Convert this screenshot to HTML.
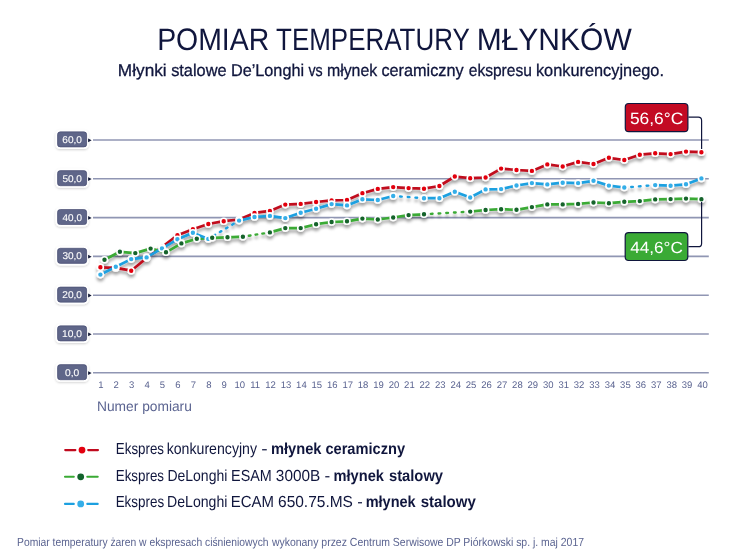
<!DOCTYPE html>
<html><head><meta charset="utf-8"><title>Pomiar temperatury młynków</title>
<style>
html,body{margin:0;padding:0;background:#fff;}
body{width:750px;height:556px;overflow:hidden;}
svg{display:block;}
text{text-rendering:geometricPrecision;}
text{font-family:'Liberation Sans', Arial, sans-serif;}
</style></head><body>
<svg width="750" height="556" viewBox="0 0 750 556" style="will-change:transform">
<defs>
<filter id="sh" x="-5%" y="-20%" width="110%" height="160%">
<feGaussianBlur in="SourceAlpha" stdDeviation="1.7"/>
<feOffset dx="0" dy="3" result="b"/>
<feFlood flood-color="#000" flood-opacity="0.36"/>
<feComposite in2="b" operator="in"/>
<feMerge><feMergeNode/><feMergeNode in="SourceGraphic"/></feMerge>
</filter>
<filter id="lsh" x="-30%" y="-40%" width="160%" height="190%">
<feGaussianBlur in="SourceAlpha" stdDeviation="1.2"/>
<feOffset dx="0" dy="1.2" result="b"/>
<feFlood flood-color="#000" flood-opacity="0.18"/>
<feComposite in2="b" operator="in"/>
<feMerge><feMergeNode/><feMergeNode in="SourceGraphic"/></feMerge>
</filter>
</defs>
<rect width="750" height="556" fill="#fff"/>

<text x="157.14" y="49.8" font-size="31" fill="#10163d" textLength="112.11" lengthAdjust="spacingAndGlyphs">POMIAR</text><text x="276.08" y="49.8" font-size="31" fill="#10163d" textLength="193.65" lengthAdjust="spacingAndGlyphs">TEMPERATURY</text><text x="476.69" y="49.8" font-size="31" fill="#10163d" textLength="155.02" lengthAdjust="spacingAndGlyphs">MŁYNKÓW</text>
<text x="117.87" y="75.6" font-size="17" fill="#10163d" textLength="48.78" lengthAdjust="spacingAndGlyphs" stroke="#10163d" stroke-width="0.3">Młynki</text><text x="171.16" y="75.6" font-size="17" fill="#10163d" textLength="55.42" lengthAdjust="spacingAndGlyphs" stroke="#10163d" stroke-width="0.3">stalowe</text><text x="230.93" y="75.6" font-size="17" fill="#10163d" textLength="73.17" lengthAdjust="spacingAndGlyphs" stroke="#10163d" stroke-width="0.3">De’Longhi</text><text x="308.53" y="75.6" font-size="17" fill="#10163d" textLength="14.20" lengthAdjust="spacingAndGlyphs" stroke="#10163d" stroke-width="0.3">vs</text><text x="326.91" y="75.6" font-size="17" fill="#10163d" textLength="50.33" lengthAdjust="spacingAndGlyphs" stroke="#10163d" stroke-width="0.3">młynek</text><text x="381.39" y="75.6" font-size="17" fill="#10163d" textLength="82.31" lengthAdjust="spacingAndGlyphs" stroke="#10163d" stroke-width="0.3">ceramiczny</text><text x="468.76" y="75.6" font-size="17" fill="#10163d" textLength="63.11" lengthAdjust="spacingAndGlyphs" stroke="#10163d" stroke-width="0.3">ekspresu</text><text x="535.96" y="75.6" font-size="17" fill="#10163d" textLength="127.98" lengthAdjust="spacingAndGlyphs" stroke="#10163d" stroke-width="0.3">konkurencyjnego.</text>
<line x1="93" y1="372.8" x2="708.8" y2="372.8" stroke="#9096b3" stroke-width="1.6"/>
<g filter="url(#lsh)"><rect x="56.5" y="363.6" width="31.2" height="17.2" rx="3.6" fill="#5f6689" stroke="#fff" stroke-width="2"/><rect x="57.6" y="364.7" width="29" height="15" rx="2.8" fill="none" stroke="#474d72" stroke-width="0.7"/></g>
<polygon points="88.1,371.2 91.6,373.1 88.1,375.0" fill="#111735"/>
<text x="65.09" y="375.7" font-size="9.8" fill="#fff" textLength="14.22" lengthAdjust="spacingAndGlyphs" stroke="#fff" stroke-width="0.1">0,0</text>
<line x1="93" y1="334.0" x2="708.8" y2="334.0" stroke="#9096b3" stroke-width="1.6"/>
<g filter="url(#lsh)"><rect x="56.5" y="324.8" width="31.2" height="17.2" rx="3.6" fill="#5f6689" stroke="#fff" stroke-width="2"/><rect x="57.6" y="325.9" width="29" height="15" rx="2.8" fill="none" stroke="#474d72" stroke-width="0.7"/></g>
<polygon points="88.1,332.4 91.6,334.3 88.1,336.2" fill="#111735"/>
<text x="61.98" y="336.9" font-size="9.8" fill="#fff" textLength="19.99" lengthAdjust="spacingAndGlyphs" stroke="#fff" stroke-width="0.1">10,0</text>
<line x1="93" y1="295.2" x2="708.8" y2="295.2" stroke="#9096b3" stroke-width="1.6"/>
<g filter="url(#lsh)"><rect x="56.5" y="286.0" width="31.2" height="17.2" rx="3.6" fill="#5f6689" stroke="#fff" stroke-width="2"/><rect x="57.6" y="287.1" width="29" height="15" rx="2.8" fill="none" stroke="#474d72" stroke-width="0.7"/></g>
<polygon points="88.1,293.6 91.6,295.5 88.1,297.4" fill="#111735"/>
<text x="62.29" y="298.1" font-size="9.8" fill="#fff" textLength="19.67" lengthAdjust="spacingAndGlyphs" stroke="#fff" stroke-width="0.1">20,0</text>
<line x1="93" y1="256.4" x2="708.8" y2="256.4" stroke="#9096b3" stroke-width="1.6"/>
<g filter="url(#lsh)"><rect x="56.5" y="247.2" width="31.2" height="17.2" rx="3.6" fill="#5f6689" stroke="#fff" stroke-width="2"/><rect x="57.6" y="248.3" width="29" height="15" rx="2.8" fill="none" stroke="#474d72" stroke-width="0.7"/></g>
<polygon points="88.1,254.8 91.6,256.7 88.1,258.6" fill="#111735"/>
<text x="62.40" y="259.3" font-size="9.8" fill="#fff" textLength="19.57" lengthAdjust="spacingAndGlyphs" stroke="#fff" stroke-width="0.1">30,0</text>
<line x1="93" y1="217.6" x2="708.8" y2="217.6" stroke="#9096b3" stroke-width="1.6"/>
<g filter="url(#lsh)"><rect x="56.5" y="208.4" width="31.2" height="17.2" rx="3.6" fill="#5f6689" stroke="#fff" stroke-width="2"/><rect x="57.6" y="209.5" width="29" height="15" rx="2.8" fill="none" stroke="#474d72" stroke-width="0.7"/></g>
<polygon points="88.1,216.0 91.6,217.9 88.1,219.8" fill="#111735"/>
<text x="62.60" y="220.5" font-size="9.8" fill="#fff" textLength="19.36" lengthAdjust="spacingAndGlyphs" stroke="#fff" stroke-width="0.1">40,0</text>
<line x1="93" y1="178.8" x2="708.8" y2="178.8" stroke="#9096b3" stroke-width="1.6"/>
<g filter="url(#lsh)"><rect x="56.5" y="169.6" width="31.2" height="17.2" rx="3.6" fill="#5f6689" stroke="#fff" stroke-width="2"/><rect x="57.6" y="170.7" width="29" height="15" rx="2.8" fill="none" stroke="#474d72" stroke-width="0.7"/></g>
<polygon points="88.1,177.2 91.6,179.1 88.1,181.0" fill="#111735"/>
<text x="62.40" y="181.7" font-size="9.8" fill="#fff" textLength="19.57" lengthAdjust="spacingAndGlyphs" stroke="#fff" stroke-width="0.1">50,0</text>
<line x1="93" y1="140.0" x2="708.8" y2="140.0" stroke="#9096b3" stroke-width="1.6"/>
<g filter="url(#lsh)"><rect x="56.5" y="130.8" width="31.2" height="17.2" rx="3.6" fill="#5f6689" stroke="#fff" stroke-width="2"/><rect x="57.6" y="131.9" width="29" height="15" rx="2.8" fill="none" stroke="#474d72" stroke-width="0.7"/></g>
<polygon points="88.1,138.4 91.6,140.3 88.1,142.2" fill="#111735"/>
<text x="62.29" y="142.9" font-size="9.8" fill="#fff" textLength="19.67" lengthAdjust="spacingAndGlyphs" stroke="#fff" stroke-width="0.1">60,0</text>
<text x="100.8" y="388.4" font-size="9.5" fill="#5a6390" text-anchor="middle">1</text>
<text x="116.2" y="388.4" font-size="9.5" fill="#5a6390" text-anchor="middle">2</text>
<text x="131.7" y="388.4" font-size="9.5" fill="#5a6390" text-anchor="middle">3</text>
<text x="147.1" y="388.4" font-size="9.5" fill="#5a6390" text-anchor="middle">4</text>
<text x="162.5" y="388.4" font-size="9.5" fill="#5a6390" text-anchor="middle">5</text>
<text x="177.9" y="388.4" font-size="9.5" fill="#5a6390" text-anchor="middle">6</text>
<text x="193.4" y="388.4" font-size="9.5" fill="#5a6390" text-anchor="middle">7</text>
<text x="208.8" y="388.4" font-size="9.5" fill="#5a6390" text-anchor="middle">8</text>
<text x="224.2" y="388.4" font-size="9.5" fill="#5a6390" text-anchor="middle">9</text>
<text x="239.7" y="388.4" font-size="9.5" fill="#5a6390" text-anchor="middle">10</text>
<text x="255.1" y="388.4" font-size="9.5" fill="#5a6390" text-anchor="middle">11</text>
<text x="270.5" y="388.4" font-size="9.5" fill="#5a6390" text-anchor="middle">12</text>
<text x="286.0" y="388.4" font-size="9.5" fill="#5a6390" text-anchor="middle">13</text>
<text x="301.4" y="388.4" font-size="9.5" fill="#5a6390" text-anchor="middle">14</text>
<text x="316.8" y="388.4" font-size="9.5" fill="#5a6390" text-anchor="middle">15</text>
<text x="332.2" y="388.4" font-size="9.5" fill="#5a6390" text-anchor="middle">16</text>
<text x="347.7" y="388.4" font-size="9.5" fill="#5a6390" text-anchor="middle">17</text>
<text x="363.1" y="388.4" font-size="9.5" fill="#5a6390" text-anchor="middle">18</text>
<text x="378.5" y="388.4" font-size="9.5" fill="#5a6390" text-anchor="middle">19</text>
<text x="394.0" y="388.4" font-size="9.5" fill="#5a6390" text-anchor="middle">20</text>
<text x="409.4" y="388.4" font-size="9.5" fill="#5a6390" text-anchor="middle">21</text>
<text x="424.8" y="388.4" font-size="9.5" fill="#5a6390" text-anchor="middle">22</text>
<text x="440.3" y="388.4" font-size="9.5" fill="#5a6390" text-anchor="middle">23</text>
<text x="455.7" y="388.4" font-size="9.5" fill="#5a6390" text-anchor="middle">24</text>
<text x="471.1" y="388.4" font-size="9.5" fill="#5a6390" text-anchor="middle">25</text>
<text x="486.6" y="388.4" font-size="9.5" fill="#5a6390" text-anchor="middle">26</text>
<text x="502.0" y="388.4" font-size="9.5" fill="#5a6390" text-anchor="middle">27</text>
<text x="517.4" y="388.4" font-size="9.5" fill="#5a6390" text-anchor="middle">28</text>
<text x="532.8" y="388.4" font-size="9.5" fill="#5a6390" text-anchor="middle">29</text>
<text x="548.3" y="388.4" font-size="9.5" fill="#5a6390" text-anchor="middle">30</text>
<text x="563.7" y="388.4" font-size="9.5" fill="#5a6390" text-anchor="middle">31</text>
<text x="579.1" y="388.4" font-size="9.5" fill="#5a6390" text-anchor="middle">32</text>
<text x="594.6" y="388.4" font-size="9.5" fill="#5a6390" text-anchor="middle">33</text>
<text x="610.0" y="388.4" font-size="9.5" fill="#5a6390" text-anchor="middle">34</text>
<text x="625.4" y="388.4" font-size="9.5" fill="#5a6390" text-anchor="middle">35</text>
<text x="640.8" y="388.4" font-size="9.5" fill="#5a6390" text-anchor="middle">36</text>
<text x="656.3" y="388.4" font-size="9.5" fill="#5a6390" text-anchor="middle">37</text>
<text x="671.7" y="388.4" font-size="9.5" fill="#5a6390" text-anchor="middle">38</text>
<text x="687.1" y="388.4" font-size="9.5" fill="#5a6390" text-anchor="middle">39</text>
<text x="702.6" y="388.4" font-size="9.5" fill="#5a6390" text-anchor="middle">40</text>
<text x="97.00" y="411.4" font-size="14" fill="#5a6390" textLength="94.87" lengthAdjust="spacingAndGlyphs">Numer pomiaru</text>
<g filter="url(#sh)"><path d="M100.4,267.3L115.8,267.9L131.2,270.7L146.6,258.0L162.0,247.0L177.4,235.2L192.9,229.2L208.3,224.0L223.7,221.2L239.1,219.5L254.5,212.9L269.9,210.9L285.3,204.6L300.7,203.9L316.1,202.0L331.6,200.4L347.0,200.0L362.4,193.3L377.8,188.9L393.2,187.1L408.6,188.1L424.0,188.7L439.4,186.0L454.8,176.5L470.2,178.2L485.6,177.5L501.1,168.6L516.5,170.0L531.9,170.9L547.3,164.4L562.7,166.5L578.1,161.9L593.5,164.0L608.9,157.8L624.3,160.0L639.8,154.7L655.2,153.3L670.6,154.1L686.0,151.6L701.4,152.2" fill="none" stroke="#c00a1e" stroke-width="2.7" stroke-linejoin="round"/><path d="M104.5,259.7L119.9,251.8L135.3,253.1L150.6,248.6L166.0,252.3L181.4,243.4L196.8,238.8L212.2,237.8L227.5,237.3L242.9,236.7M269.9,232.4L285.3,228.1L300.7,228.1L316.1,224.2L331.6,222.0L347.0,221.3L362.4,218.6L377.8,219.5L393.2,217.5L408.6,215.1L424.0,214.3M470.2,211.6L485.6,210.0L501.1,209.2L516.5,209.8L531.9,207.1L547.3,204.4L562.7,204.4L578.1,203.9L593.5,202.5L608.9,203.2L624.3,201.8L639.8,201.1L655.2,199.4L670.6,199.1L686.0,198.6L701.4,199.2" fill="none" stroke="#3aaa35" stroke-width="2.7" stroke-linejoin="round"/><path d="M248.83,235.76L250.51,235.49M255.58,234.68L257.25,234.42M262.32,233.61L264.00,233.34M430.87,213.90L432.56,213.80M438.57,213.45L440.27,213.35M446.28,213.00L447.97,212.90M453.98,212.55L455.68,212.45M461.69,212.10L463.38,212.00" fill="none" stroke="#3aaa35" stroke-width="2.4" stroke-linecap="round"/><path d="M100.4,274.6L115.8,266.7L131.2,259.1L146.6,257.4L162.0,248.4L177.4,239.3L192.9,232.8L208.3,238.9M239.1,220.6L254.5,217.0L269.9,215.9L285.3,218.1L300.7,212.7L316.1,208.8L331.6,204.1L347.0,205.4L362.4,199.3L377.8,200.0L393.2,196.0M424.0,198.2L439.4,198.2L454.8,191.7L470.2,197.5L485.6,189.4L501.1,189.1L516.5,185.5L531.9,183.1L547.3,184.4L562.7,182.7L578.1,183.1L593.5,180.8L608.9,185.6L624.3,187.5M655.2,185.1L670.6,185.7L686.0,184.3L701.4,178.4" fill="none" stroke="#1ca0e0" stroke-width="2.7" stroke-linejoin="round"/><path d="M213.70,235.67L215.16,234.81M219.87,232.01L221.33,231.15M226.03,228.35L227.49,227.49M232.20,224.69L233.66,223.83M400.05,196.49L401.74,196.61M407.75,197.04L409.45,197.16M415.46,197.59L417.15,197.71M631.20,186.97L632.89,186.83M638.90,186.37L640.60,186.23M646.61,185.77L648.30,185.63" fill="none" stroke="#1ca0e0" stroke-width="2.4" stroke-linecap="round"/><circle cx="100.4" cy="267.3" r="3.0" fill="#e3000f" stroke="#fff" stroke-width="1.6"/><circle cx="115.8" cy="267.9" r="3.0" fill="#e3000f" stroke="#fff" stroke-width="1.6"/><circle cx="131.2" cy="270.7" r="3.0" fill="#e3000f" stroke="#fff" stroke-width="1.6"/><circle cx="146.6" cy="258.0" r="3.0" fill="#e3000f" stroke="#fff" stroke-width="1.6"/><circle cx="162.0" cy="247.0" r="3.0" fill="#e3000f" stroke="#fff" stroke-width="1.6"/><circle cx="177.4" cy="235.2" r="3.0" fill="#e3000f" stroke="#fff" stroke-width="1.6"/><circle cx="192.9" cy="229.2" r="3.0" fill="#e3000f" stroke="#fff" stroke-width="1.6"/><circle cx="208.3" cy="224.0" r="3.0" fill="#e3000f" stroke="#fff" stroke-width="1.6"/><circle cx="223.7" cy="221.2" r="3.0" fill="#e3000f" stroke="#fff" stroke-width="1.6"/><circle cx="239.1" cy="219.5" r="3.0" fill="#e3000f" stroke="#fff" stroke-width="1.6"/><circle cx="254.5" cy="212.9" r="3.0" fill="#e3000f" stroke="#fff" stroke-width="1.6"/><circle cx="269.9" cy="210.9" r="3.0" fill="#e3000f" stroke="#fff" stroke-width="1.6"/><circle cx="285.3" cy="204.6" r="3.0" fill="#e3000f" stroke="#fff" stroke-width="1.6"/><circle cx="300.7" cy="203.9" r="3.0" fill="#e3000f" stroke="#fff" stroke-width="1.6"/><circle cx="316.1" cy="202.0" r="3.0" fill="#e3000f" stroke="#fff" stroke-width="1.6"/><circle cx="331.6" cy="200.4" r="3.0" fill="#e3000f" stroke="#fff" stroke-width="1.6"/><circle cx="347.0" cy="200.0" r="3.0" fill="#e3000f" stroke="#fff" stroke-width="1.6"/><circle cx="362.4" cy="193.3" r="3.0" fill="#e3000f" stroke="#fff" stroke-width="1.6"/><circle cx="377.8" cy="188.9" r="3.0" fill="#e3000f" stroke="#fff" stroke-width="1.6"/><circle cx="393.2" cy="187.1" r="3.0" fill="#e3000f" stroke="#fff" stroke-width="1.6"/><circle cx="408.6" cy="188.1" r="3.0" fill="#e3000f" stroke="#fff" stroke-width="1.6"/><circle cx="424.0" cy="188.7" r="3.0" fill="#e3000f" stroke="#fff" stroke-width="1.6"/><circle cx="439.4" cy="186.0" r="3.0" fill="#e3000f" stroke="#fff" stroke-width="1.6"/><circle cx="454.8" cy="176.5" r="3.0" fill="#e3000f" stroke="#fff" stroke-width="1.6"/><circle cx="470.2" cy="178.2" r="3.0" fill="#e3000f" stroke="#fff" stroke-width="1.6"/><circle cx="485.6" cy="177.5" r="3.0" fill="#e3000f" stroke="#fff" stroke-width="1.6"/><circle cx="501.1" cy="168.6" r="3.0" fill="#e3000f" stroke="#fff" stroke-width="1.6"/><circle cx="516.5" cy="170.0" r="3.0" fill="#e3000f" stroke="#fff" stroke-width="1.6"/><circle cx="531.9" cy="170.9" r="3.0" fill="#e3000f" stroke="#fff" stroke-width="1.6"/><circle cx="547.3" cy="164.4" r="3.0" fill="#e3000f" stroke="#fff" stroke-width="1.6"/><circle cx="562.7" cy="166.5" r="3.0" fill="#e3000f" stroke="#fff" stroke-width="1.6"/><circle cx="578.1" cy="161.9" r="3.0" fill="#e3000f" stroke="#fff" stroke-width="1.6"/><circle cx="593.5" cy="164.0" r="3.0" fill="#e3000f" stroke="#fff" stroke-width="1.6"/><circle cx="608.9" cy="157.8" r="3.0" fill="#e3000f" stroke="#fff" stroke-width="1.6"/><circle cx="624.3" cy="160.0" r="3.0" fill="#e3000f" stroke="#fff" stroke-width="1.6"/><circle cx="639.8" cy="154.7" r="3.0" fill="#e3000f" stroke="#fff" stroke-width="1.6"/><circle cx="655.2" cy="153.3" r="3.0" fill="#e3000f" stroke="#fff" stroke-width="1.6"/><circle cx="670.6" cy="154.1" r="3.0" fill="#e3000f" stroke="#fff" stroke-width="1.6"/><circle cx="686.0" cy="151.6" r="3.0" fill="#e3000f" stroke="#fff" stroke-width="1.6"/><circle cx="701.4" cy="152.2" r="3.0" fill="#e3000f" stroke="#fff" stroke-width="1.6"/><circle cx="100.4" cy="274.6" r="3.0" fill="#35aee8" stroke="#fff" stroke-width="1.6"/><circle cx="115.8" cy="266.7" r="3.0" fill="#35aee8" stroke="#fff" stroke-width="1.6"/><circle cx="131.2" cy="259.1" r="3.0" fill="#35aee8" stroke="#fff" stroke-width="1.6"/><circle cx="146.6" cy="257.4" r="3.0" fill="#35aee8" stroke="#fff" stroke-width="1.6"/><circle cx="162.0" cy="248.4" r="3.0" fill="#35aee8" stroke="#fff" stroke-width="1.6"/><circle cx="177.4" cy="239.3" r="3.0" fill="#35aee8" stroke="#fff" stroke-width="1.6"/><circle cx="192.9" cy="232.8" r="3.0" fill="#35aee8" stroke="#fff" stroke-width="1.6"/><circle cx="208.3" cy="238.9" r="3.0" fill="#35aee8" stroke="#fff" stroke-width="1.6"/><circle cx="239.1" cy="220.6" r="3.0" fill="#35aee8" stroke="#fff" stroke-width="1.6"/><circle cx="254.5" cy="217.0" r="3.0" fill="#35aee8" stroke="#fff" stroke-width="1.6"/><circle cx="269.9" cy="215.9" r="3.0" fill="#35aee8" stroke="#fff" stroke-width="1.6"/><circle cx="285.3" cy="218.1" r="3.0" fill="#35aee8" stroke="#fff" stroke-width="1.6"/><circle cx="300.7" cy="212.7" r="3.0" fill="#35aee8" stroke="#fff" stroke-width="1.6"/><circle cx="316.1" cy="208.8" r="3.0" fill="#35aee8" stroke="#fff" stroke-width="1.6"/><circle cx="331.6" cy="204.1" r="3.0" fill="#35aee8" stroke="#fff" stroke-width="1.6"/><circle cx="347.0" cy="205.4" r="3.0" fill="#35aee8" stroke="#fff" stroke-width="1.6"/><circle cx="362.4" cy="199.3" r="3.0" fill="#35aee8" stroke="#fff" stroke-width="1.6"/><circle cx="377.8" cy="200.0" r="3.0" fill="#35aee8" stroke="#fff" stroke-width="1.6"/><circle cx="393.2" cy="196.0" r="3.0" fill="#35aee8" stroke="#fff" stroke-width="1.6"/><circle cx="424.0" cy="198.2" r="3.0" fill="#35aee8" stroke="#fff" stroke-width="1.6"/><circle cx="439.4" cy="198.2" r="3.0" fill="#35aee8" stroke="#fff" stroke-width="1.6"/><circle cx="454.8" cy="191.7" r="3.0" fill="#35aee8" stroke="#fff" stroke-width="1.6"/><circle cx="470.2" cy="197.5" r="3.0" fill="#35aee8" stroke="#fff" stroke-width="1.6"/><circle cx="485.6" cy="189.4" r="3.0" fill="#35aee8" stroke="#fff" stroke-width="1.6"/><circle cx="501.1" cy="189.1" r="3.0" fill="#35aee8" stroke="#fff" stroke-width="1.6"/><circle cx="516.5" cy="185.5" r="3.0" fill="#35aee8" stroke="#fff" stroke-width="1.6"/><circle cx="531.9" cy="183.1" r="3.0" fill="#35aee8" stroke="#fff" stroke-width="1.6"/><circle cx="547.3" cy="184.4" r="3.0" fill="#35aee8" stroke="#fff" stroke-width="1.6"/><circle cx="562.7" cy="182.7" r="3.0" fill="#35aee8" stroke="#fff" stroke-width="1.6"/><circle cx="578.1" cy="183.1" r="3.0" fill="#35aee8" stroke="#fff" stroke-width="1.6"/><circle cx="593.5" cy="180.8" r="3.0" fill="#35aee8" stroke="#fff" stroke-width="1.6"/><circle cx="608.9" cy="185.6" r="3.0" fill="#35aee8" stroke="#fff" stroke-width="1.6"/><circle cx="624.3" cy="187.5" r="3.0" fill="#35aee8" stroke="#fff" stroke-width="1.6"/><circle cx="655.2" cy="185.1" r="3.0" fill="#35aee8" stroke="#fff" stroke-width="1.6"/><circle cx="670.6" cy="185.7" r="3.0" fill="#35aee8" stroke="#fff" stroke-width="1.6"/><circle cx="686.0" cy="184.3" r="3.0" fill="#35aee8" stroke="#fff" stroke-width="1.6"/><circle cx="701.4" cy="178.4" r="3.0" fill="#35aee8" stroke="#fff" stroke-width="1.6"/><circle cx="104.5" cy="259.7" r="3.0" fill="#12632c" stroke="#fff" stroke-width="1.6"/><circle cx="119.9" cy="251.8" r="3.0" fill="#12632c" stroke="#fff" stroke-width="1.6"/><circle cx="135.3" cy="253.1" r="3.0" fill="#12632c" stroke="#fff" stroke-width="1.6"/><circle cx="150.6" cy="248.6" r="3.0" fill="#12632c" stroke="#fff" stroke-width="1.6"/><circle cx="166.0" cy="252.3" r="3.0" fill="#12632c" stroke="#fff" stroke-width="1.6"/><circle cx="181.4" cy="243.4" r="3.0" fill="#12632c" stroke="#fff" stroke-width="1.6"/><circle cx="196.8" cy="238.8" r="3.0" fill="#12632c" stroke="#fff" stroke-width="1.6"/><circle cx="212.2" cy="237.8" r="3.0" fill="#12632c" stroke="#fff" stroke-width="1.6"/><circle cx="227.5" cy="237.3" r="3.0" fill="#12632c" stroke="#fff" stroke-width="1.6"/><circle cx="242.9" cy="236.7" r="3.0" fill="#12632c" stroke="#fff" stroke-width="1.6"/><circle cx="269.9" cy="232.4" r="3.0" fill="#12632c" stroke="#fff" stroke-width="1.6"/><circle cx="285.3" cy="228.1" r="3.0" fill="#12632c" stroke="#fff" stroke-width="1.6"/><circle cx="300.7" cy="228.1" r="3.0" fill="#12632c" stroke="#fff" stroke-width="1.6"/><circle cx="316.1" cy="224.2" r="3.0" fill="#12632c" stroke="#fff" stroke-width="1.6"/><circle cx="331.6" cy="222.0" r="3.0" fill="#12632c" stroke="#fff" stroke-width="1.6"/><circle cx="347.0" cy="221.3" r="3.0" fill="#12632c" stroke="#fff" stroke-width="1.6"/><circle cx="362.4" cy="218.6" r="3.0" fill="#12632c" stroke="#fff" stroke-width="1.6"/><circle cx="377.8" cy="219.5" r="3.0" fill="#12632c" stroke="#fff" stroke-width="1.6"/><circle cx="393.2" cy="217.5" r="3.0" fill="#12632c" stroke="#fff" stroke-width="1.6"/><circle cx="408.6" cy="215.1" r="3.0" fill="#12632c" stroke="#fff" stroke-width="1.6"/><circle cx="424.0" cy="214.3" r="3.0" fill="#12632c" stroke="#fff" stroke-width="1.6"/><circle cx="470.2" cy="211.6" r="3.0" fill="#12632c" stroke="#fff" stroke-width="1.6"/><circle cx="485.6" cy="210.0" r="3.0" fill="#12632c" stroke="#fff" stroke-width="1.6"/><circle cx="501.1" cy="209.2" r="3.0" fill="#12632c" stroke="#fff" stroke-width="1.6"/><circle cx="516.5" cy="209.8" r="3.0" fill="#12632c" stroke="#fff" stroke-width="1.6"/><circle cx="531.9" cy="207.1" r="3.0" fill="#12632c" stroke="#fff" stroke-width="1.6"/><circle cx="547.3" cy="204.4" r="3.0" fill="#12632c" stroke="#fff" stroke-width="1.6"/><circle cx="562.7" cy="204.4" r="3.0" fill="#12632c" stroke="#fff" stroke-width="1.6"/><circle cx="578.1" cy="203.9" r="3.0" fill="#12632c" stroke="#fff" stroke-width="1.6"/><circle cx="593.5" cy="202.5" r="3.0" fill="#12632c" stroke="#fff" stroke-width="1.6"/><circle cx="608.9" cy="203.2" r="3.0" fill="#12632c" stroke="#fff" stroke-width="1.6"/><circle cx="624.3" cy="201.8" r="3.0" fill="#12632c" stroke="#fff" stroke-width="1.6"/><circle cx="639.8" cy="201.1" r="3.0" fill="#12632c" stroke="#fff" stroke-width="1.6"/><circle cx="655.2" cy="199.4" r="3.0" fill="#12632c" stroke="#fff" stroke-width="1.6"/><circle cx="670.6" cy="199.1" r="3.0" fill="#12632c" stroke="#fff" stroke-width="1.6"/><circle cx="686.0" cy="198.6" r="3.0" fill="#12632c" stroke="#fff" stroke-width="1.6"/><circle cx="701.4" cy="199.2" r="3.0" fill="#12632c" stroke="#fff" stroke-width="1.6"/></g>
<path d="M688.4,117.2H698.3Q701.6,117.2 701.6,120.5V149" fill="none" stroke="#10163d" stroke-width="1.2"/>
<rect x="625.3" y="103.5" width="62.6" height="28.2" rx="3.5" fill="#c30a23" stroke="#10163d" stroke-width="1.2"/>
<text x="629.90" y="123.8" font-size="16.4" fill="#fff" textLength="53.46" lengthAdjust="spacingAndGlyphs">56,6°C</text>
<path d="M688.4,246.7H698.3Q701.6,246.7 701.6,243.4V202" fill="none" stroke="#10163d" stroke-width="1.2"/>
<rect x="625.2" y="232.7" width="62.6" height="27.8" rx="3.5" fill="#3aaa35" stroke="#10163d" stroke-width="1.2"/>
<text x="630.16" y="252.5" font-size="16.2" fill="#fff" textLength="52.70" lengthAdjust="spacingAndGlyphs">44,6°C</text>
<path d="M65.2,450.1H75.4M88.2,450.1H98.0" stroke="#c00a1e" stroke-width="2.1" stroke-linecap="round"/>
<circle cx="82.0" cy="450.1" r="3.4" fill="#e3000f"/>
<text x="115.83" y="454.2" font-size="16" fill="#10163d" textLength="48.13" lengthAdjust="spacingAndGlyphs">Ekspres</text><text x="166.70" y="454.2" font-size="16" fill="#10163d" textLength="90.34" lengthAdjust="spacingAndGlyphs">konkurencyjny</text><text x="261.25" y="454.2" font-size="16" fill="#10163d" textLength="6.36" lengthAdjust="spacingAndGlyphs">-</text>
<text x="270.98" y="454.2" font-size="16" fill="#10163d" font-weight="bold" textLength="50.56" lengthAdjust="spacingAndGlyphs">młynek</text><text x="325.41" y="454.2" font-size="16" fill="#10163d" font-weight="bold" textLength="79.71" lengthAdjust="spacingAndGlyphs">ceramiczny</text>
<path d="M65.0,476.8H73.8M87.3,476.8H97.7" stroke="#3aaa35" stroke-width="2.1" stroke-linecap="round"/>
<circle cx="80.7" cy="476.8" r="3.4" fill="#12632c"/>
<text x="115.76" y="481.2" font-size="16" fill="#10163d" textLength="48.28" lengthAdjust="spacingAndGlyphs">Ekspres</text><text x="167.39" y="481.2" font-size="16" fill="#10163d" textLength="59.95" lengthAdjust="spacingAndGlyphs">DeLonghi</text><text x="231.08" y="481.2" font-size="16" fill="#10163d" textLength="40.70" lengthAdjust="spacingAndGlyphs">ESAM</text><text x="275.86" y="481.2" font-size="16" fill="#10163d" textLength="44.36" lengthAdjust="spacingAndGlyphs">3000B</text><text x="324.58" y="481.2" font-size="16" fill="#10163d" textLength="5.69" lengthAdjust="spacingAndGlyphs">-</text>
<text x="333.55" y="481.2" font-size="16" fill="#10163d" font-weight="bold" textLength="50.41" lengthAdjust="spacingAndGlyphs">młynek</text><text x="388.93" y="481.2" font-size="16" fill="#10163d" font-weight="bold" textLength="54.16" lengthAdjust="spacingAndGlyphs">stalowy</text>
<path d="M65.0,503.9H73.8M87.3,503.9H97.7" stroke="#1ca0e0" stroke-width="2.1" stroke-linecap="round"/>
<circle cx="80.7" cy="503.9" r="3.4" fill="#35aee8"/>
<text x="115.68" y="506.8" font-size="16" fill="#10163d" textLength="48.44" lengthAdjust="spacingAndGlyphs">Ekspres</text><text x="167.10" y="506.8" font-size="16" fill="#10163d" textLength="60.24" lengthAdjust="spacingAndGlyphs">DeLonghi</text><text x="230.80" y="506.8" font-size="16" fill="#10163d" textLength="43.19" lengthAdjust="spacingAndGlyphs">ECAM</text><text x="278.02" y="506.8" font-size="16" fill="#10163d" textLength="74.91" lengthAdjust="spacingAndGlyphs">650.75.MS</text><text x="357.38" y="506.8" font-size="16" fill="#10163d" textLength="5.48" lengthAdjust="spacingAndGlyphs">-</text>
<text x="365.70" y="506.8" font-size="16" fill="#10163d" font-weight="bold" textLength="49.93" lengthAdjust="spacingAndGlyphs">młynek</text><text x="420.68" y="506.8" font-size="16" fill="#10163d" font-weight="bold" textLength="55.15" lengthAdjust="spacingAndGlyphs">stalowy</text>
<text x="17.08" y="545.8" font-size="11.8" fill="#5a6390" textLength="251.52" lengthAdjust="spacingAndGlyphs">Pomiar temperatury żaren w ekspresach ciśnieniowych</text><text x="271.90" y="545.8" font-size="11.8" fill="#5a6390" textLength="171.56" lengthAdjust="spacingAndGlyphs">wykonany przez Centrum Serwisowe</text><text x="446.17" y="545.8" font-size="11.8" fill="#5a6390" textLength="137.84" lengthAdjust="spacingAndGlyphs">DP Piórkowski sp. j. maj 2017</text>
</svg></body></html>
